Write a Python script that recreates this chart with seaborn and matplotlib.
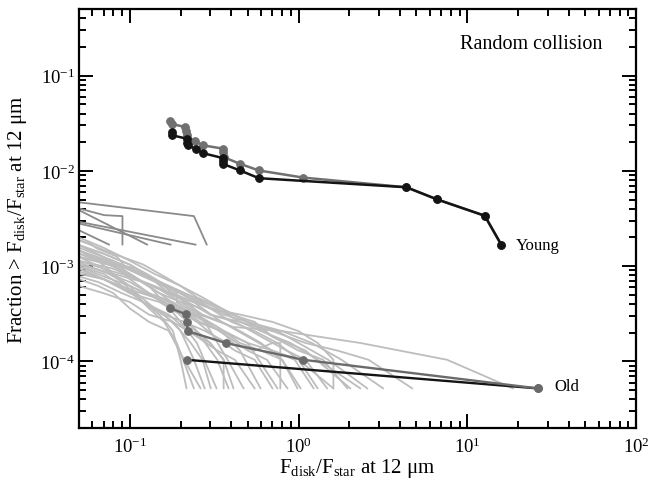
import numpy as np
import pandas as pd
import matplotlib
matplotlib.use("Agg")
import matplotlib.pyplot as plt
import seaborn as sns

# Observed cumulative distributions
young_x = [0.177, 0.177, 0.217, 0.219, 0.220, 0.246, 0.273, 0.358, 0.358, 0.358,
           0.450, 0.582, 4.36, 6.62, 12.7, 15.9]
young_y = [0.0255, 0.0237, 0.0218, 0.0196, 0.0185, 0.0171, 0.0153, 0.0136, 0.0128,
           0.0118, 0.0101, 0.00838, 0.00673, 0.00502, 0.00338, 0.00168]

young_alt_x = [0.172, 0.177, 0.212, 0.215, 0.217, 0.243, 0.273, 0.358, 0.358, 0.362,
               0.450, 0.582, 1.066, 4.36, 6.62, 12.7, 15.9]
young_alt_y = [0.0337, 0.0311, 0.0289, 0.0261, 0.0237, 0.0204, 0.0185, 0.0171, 0.01575,
               0.01387, 0.01186, 0.0101, 0.0085, 0.00673, 0.00502, 0.00338, 0.00168]

old_x = [0.217, 26.4]
old_y = [1.04e-4, 5.2e-5]

old_alt_x = [0.1726, 0.2155, 0.2175, 0.220, 0.371, 1.07, 26.4]
old_alt_y = [3.64e-4, 3.12e-4, 2.6e-4, 2.08e-4, 1.56e-4, 1.04e-4, 5.2e-5]

# Simulated young populations (random collisions)
young_mc_x = [
    [0.05, 0.240, 0.286],
    [0.05, 0.0705, 0.0905, 0.0905],
    [0.05, 0.127],
    [0.05, 0.246],
    [0.05, 0.175],
    [0.05, 0.0755],
]
young_mc_y = [
    [4.68e-3, 3.35e-3, 1.68e-3],
    [4.03e-3, 3.43e-3, 3.35e-3, 1.68e-3],
    [3.87e-3, 1.68e-3],
    [2.92e-3, 1.68e-3],
    [2.80e-3, 1.68e-3],
    [2.38e-3, 1.68e-3],
]

# Simulated old populations (random collisions)
old_mc_x = [
    [0.05, 0.07, 0.09, 0.12, 0.15, 0.18, 0.2, 0.217],
    [0.05, 0.065, 0.08, 0.1, 0.13, 0.17, 0.21, 0.263],
    [0.05, 0.07, 0.1, 0.12, 0.16, 0.2, 0.24, 0.278],
    [0.05, 0.06, 0.085, 0.11, 0.14, 0.18, 0.23, 0.27, 0.302],
    [0.05, 0.08, 0.1, 0.13, 0.16, 0.2, 0.25, 0.327],
    [0.05, 0.075, 0.1, 0.14, 0.18, 0.22, 0.28, 0.33, 0.385],
    [0.05, 0.07, 0.095, 0.12, 0.17, 0.22, 0.3, 0.36, 0.412],
    [0.05, 0.07, 0.09, 0.12, 0.15, 0.2, 0.26, 0.3, 0.38, 0.473],
    [0.05, 0.08, 0.11, 0.15, 0.2, 0.26, 0.35, 0.45, 0.596],
    [0.05, 0.07, 0.1, 0.14, 0.19, 0.25, 0.32, 0.42, 0.55, 0.702],
    [0.05, 0.058, 0.064, 0.084, 0.093, 0.11, 0.126, 0.166, 0.19, 0.19, 0.25, 0.36, 0.5, 0.751],
    [0.05, 0.065, 0.09, 0.12, 0.16, 0.21, 0.28, 0.38, 0.55, 0.7, 0.78, 0.78],
    [0.05, 0.075, 0.1, 0.13, 0.15, 0.2, 0.28, 0.38, 0.5, 0.65, 0.861],
    [0.05, 0.07, 0.1, 0.13, 0.18, 0.24, 0.33, 0.45, 0.6, 0.8, 0.986],
    [0.05, 0.08, 0.12, 0.16, 0.21, 0.27, 0.35, 0.45, 0.6, 0.8, 1.03],
    [0.05, 0.08, 0.11, 0.15, 0.2, 0.27, 0.35, 0.5, 0.7, 0.95, 1.23],
    [0.05, 0.07, 0.1, 0.14, 0.19, 0.25, 0.35, 0.5, 0.7, 1.0, 1.30],
    [0.05, 0.07, 0.1, 0.14, 0.18, 0.24, 0.3, 0.42, 0.6, 0.85, 1.1, 1.48],
    [0.05, 0.09, 0.12, 0.17, 0.24, 0.3, 0.4, 0.55, 0.75, 1.0, 1.61],
    [0.05, 0.07, 0.1, 0.14, 0.2, 0.25, 0.35, 0.5, 0.7, 1.0, 1.4, 1.95],
    [0.05, 0.08, 0.12, 0.17, 0.22, 0.3, 0.45, 0.6, 0.9, 1.3, 2.33],
    [0.05, 0.075, 0.11, 0.15, 0.2, 0.26, 0.36, 0.5, 0.75, 1.0, 1.5, 2.56],
    [0.05, 0.08, 0.12, 0.16, 0.2, 0.27, 0.35, 0.5, 0.8, 1.2, 1.8, 3.18],
    [0.05, 0.08, 0.12, 0.17, 0.24, 0.33, 0.45, 0.7, 1.1, 1.7, 2.6, 4.73],
    [0.05, 0.07, 0.1, 0.13, 0.17, 0.22, 0.26, 0.41, 0.8, 2.33, 7.6, 18.7],
    [0.05, 0.065, 0.08, 0.1, 0.13, 0.16, 0.19, 0.24],
    [0.05, 0.07, 0.1, 0.13, 0.18, 0.25, 0.33, 0.42, 0.55],
    [0.05, 0.07, 0.1, 0.13, 0.18, 0.22, 0.3, 0.4, 0.55, 0.7, 1.1, 2.03],
    [0.05, 0.07, 0.1, 0.15, 0.2, 0.25, 0.3, 0.36, 0.36],
    [0.05, 0.07, 0.1, 0.14, 0.2, 0.3, 0.45, 0.7, 1.0, 1.3, 1.61, 1.61],
]
old_mc_y = [
    [1.0e-3, 8.3e-4, 6.2e-4, 4.2e-4, 3.1e-4, 2.1e-4, 1.04e-4, 5.2e-5],
    [7.3e-4, 6.2e-4, 5.2e-4, 3.6e-4, 2.6e-4, 2.1e-4, 1.04e-4, 5.2e-5],
    [1.25e-3, 9.4e-4, 6.2e-4, 4.2e-4, 3.1e-4, 2.1e-4, 1.04e-4, 5.2e-5],
    [9.4e-4, 8.3e-4, 6.2e-4, 5.2e-4, 3.6e-4, 2.6e-4, 1.56e-4, 1.04e-4, 5.2e-5],
    [1.46e-3, 1.04e-3, 7.3e-4, 5.2e-4, 4.2e-4, 2.6e-4, 1.56e-4, 5.2e-5],
    [1.1e-3, 8.3e-4, 6.2e-4, 4.7e-4, 3.6e-4, 2.6e-4, 1.56e-4, 1.04e-4, 5.2e-5],
    [8.3e-4, 7.3e-4, 5.7e-4, 4.2e-4, 3.1e-4, 2.1e-4, 1.56e-4, 1.04e-4, 5.2e-5],
    [1.66e-3, 1.25e-3, 9.4e-4, 6.8e-4, 5.2e-4, 4.2e-4, 3.1e-4, 2.1e-4, 1.04e-4, 5.2e-5],
    [1.25e-3, 1.0e-3, 7.3e-4, 5.2e-4, 3.6e-4, 2.6e-4, 2.08e-4, 1.3e-4, 5.2e-5],
    [9.9e-4, 7.8e-4, 6.2e-4, 4.7e-4, 3.6e-4, 2.6e-4, 1.82e-4, 1.3e-4, 1.04e-4, 5.2e-5],
    [1.87e-3, 1.73e-3, 1.53e-3, 1.26e-3, 1.01e-3, 9.4e-4, 8.3e-4, 6.2e-4, 5.2e-4, 4.2e-4,
     3.1e-4, 2.1e-4, 1.56e-4, 5.2e-5],
    [7.8e-4, 6.8e-4, 5.2e-4, 4.2e-4, 3.1e-4, 2.6e-4, 2.08e-4, 1.56e-4, 1.3e-4, 1.56e-4,
     1.56e-4, 5.2e-5],
    [1.35e-3, 1.04e-3, 8.3e-4, 6.2e-4, 4.7e-4, 3.6e-4, 2.6e-4, 1.82e-4, 1.3e-4, 1.04e-4, 5.2e-5],
    [1.04e-3, 8.8e-4, 6.8e-4, 5.2e-4, 4.2e-4, 3.1e-4, 2.3e-4, 1.56e-4, 1.3e-4, 1.04e-4, 5.2e-5],
    [1.56e-3, 1.14e-3, 8.3e-4, 6.2e-4, 4.2e-4, 3.1e-4, 2.6e-4, 2.08e-4, 1.56e-4, 1.04e-4, 5.2e-5],
    [1.14e-3, 9.4e-4, 7.3e-4, 5.7e-4, 4.2e-4, 3.6e-4, 2.6e-4, 1.82e-4, 1.3e-4, 1.04e-4, 5.2e-5],
    [8.8e-4, 7.3e-4, 5.7e-4, 4.7e-4, 3.6e-4, 2.6e-4, 2.08e-4, 1.56e-4, 1.3e-4, 1.04e-4, 5.2e-5],
    [1.66e-3, 1.35e-3, 1.04e-3, 7.3e-4, 5.2e-4, 4.2e-4, 3.1e-4, 2.6e-4, 1.82e-4, 1.3e-4,
     1.04e-4, 5.2e-5],
    [1.25e-3, 9.9e-4, 7.8e-4, 6.2e-4, 4.7e-4, 3.6e-4, 2.6e-4, 2.08e-4, 1.56e-4, 1.04e-4, 5.2e-5],
    [2.0e-3, 1.56e-3, 1.14e-3, 8.3e-4, 6.2e-4, 4.7e-4, 3.6e-4, 2.6e-4, 1.82e-4, 1.3e-4,
     1.04e-4, 5.2e-5],
    [1.04e-3, 8.3e-4, 6.8e-4, 5.2e-4, 4.2e-4, 3.1e-4, 2.6e-4, 2.08e-4, 1.56e-4, 1.04e-4, 5.2e-5],
    [1.46e-3, 1.14e-3, 8.8e-4, 6.8e-4, 5.2e-4, 4.2e-4, 3.1e-4, 2.6e-4, 2.08e-4, 1.56e-4,
     1.04e-4, 5.2e-5],
    [1.87e-3, 1.35e-3, 1.04e-3, 7.8e-4, 6.2e-4, 4.7e-4, 3.6e-4, 2.6e-4, 2.08e-4, 1.56e-4,
     1.04e-4, 5.2e-5],
    [1.25e-3, 1.04e-3, 8.3e-4, 6.2e-4, 4.7e-4, 3.6e-4, 2.6e-4, 2.08e-4, 1.56e-4, 1.3e-4,
     1.04e-4, 5.2e-5],
    [1.66e-3, 1.35e-3, 1.04e-3, 7.8e-4, 5.2e-4, 4.2e-4, 3.1e-4, 2.3e-4, 2.08e-4, 1.56e-4,
     1.04e-4, 5.2e-5],
    [1.46e-3, 1.14e-3, 8.3e-4, 5.7e-4, 3.6e-4, 2.6e-4, 1.56e-4, 5.2e-5],
    [6.2e-4, 5.2e-4, 4.2e-4, 3.1e-4, 2.6e-4, 1.82e-4, 1.3e-4, 1.04e-4, 5.2e-5],
    [1.35e-3, 1.14e-3, 9.4e-4, 7.3e-4, 5.7e-4, 4.7e-4, 3.6e-4, 3.1e-4, 2.6e-4, 1.82e-4,
     1.3e-4, 5.2e-5],
    [9.4e-4, 7.3e-4, 5.2e-4, 4.2e-4, 3.1e-4, 2.08e-4, 1.56e-4, 1.04e-4, 5.2e-5],
    [1.14e-3, 9.4e-4, 7.8e-4, 6.2e-4, 4.7e-4, 3.6e-4, 3.1e-4, 2.6e-4, 2.08e-4, 1.56e-4,
     1.04e-4, 5.2e-5],
]


def long_table(xs, ys):
    rows = []
    for i, (cx, cy) in enumerate(zip(xs, ys)):
        for j, (a, b) in enumerate(zip(cx, cy)):
            rows.append({"run": i, "order": j, "x": a, "y": b})
    return pd.DataFrame(rows)


sns.set_style("ticks")
plt.rcParams["font.family"] = ["Liberation Serif", "DejaVu Serif"]
plt.rcParams["mathtext.fontset"] = "custom"
plt.rcParams["mathtext.rm"] = "Liberation Serif"
plt.rcParams["mathtext.it"] = "Liberation Serif:italic"
plt.rcParams["mathtext.default"] = "rm"
plt.rcParams["text.color"] = "black"
plt.rcParams["axes.labelcolor"] = "black"

fig = plt.figure(figsize=(6.62, 4.81), dpi=100)
ax = fig.add_axes([0.1193, 0.1081, 0.8414, 0.8711])
ax.set_xscale("log")
ax.set_yscale("log")

light = "#bdbdbd"
medium = "#8a8a8a"

old_mc = long_table(old_mc_x, old_mc_y)
sns.lineplot(data=old_mc, x="x", y="y", units="run", estimator=None, sort=False,
             color=light, lw=1.3, ax=ax, legend=False)

young_mc = long_table(young_mc_x, young_mc_y)
sns.lineplot(data=young_mc, x="x", y="y", units="run", estimator=None, sort=False,
             color=medium, lw=1.3, ax=ax, legend=False)

series = [
    (old_x, old_y, "#141414", "#6a6a6a", 1.7),
    (old_alt_x, old_alt_y, "#6a6a6a", "#6a6a6a", 1.7),
    (young_alt_x, young_alt_y, "#707070", "#707070", 1.8),
    (young_x, young_y, "#141414", "#141414", 1.8),
]
for sx, sy, lc, mc, lw in series:
    df = pd.DataFrame({"x": sx, "y": sy})
    sns.lineplot(data=df, x="x", y="y", sort=False, estimator=None, color=lc, lw=lw,
                 marker="o", markersize=5.5, markerfacecolor=mc, markeredgecolor=mc,
                 ax=ax, legend=False)

ax.set_xlim(0.05, 100)
ax.set_ylim(2e-5, 0.5)

ax.text(19.3, young_y[-1], "Young", fontsize=12, va="center", ha="left")
ax.text(33.0, 5.5e-5, "Old", fontsize=12, va="center", ha="left")
ax.text(0.94, 0.917, "Random collision", transform=ax.transAxes, fontsize=14.5,
        ha="right", va="center")

ax.set_xlabel(r"F$_{\rm disk}$/F$_{\rm star}$ at 12 μm", fontsize=15, labelpad=0)
ax.set_ylabel(r"Fraction > F$_{\rm disk}$/F$_{\rm star}$ at 12 μm", fontsize=15, labelpad=8)

for s in ax.spines.values():
    s.set_linewidth(1.6)
    s.set_color("black")
ax.tick_params(which="both", direction="in", top=True, right=True, colors="black",
               labelsize=13.5, width=1.4)
ax.tick_params(which="major", length=10)
ax.tick_params(axis="y", which="major", pad=3)
ax.tick_params(axis="x", which="major", pad=6)
ax.tick_params(which="minor", length=5)
ax.yaxis.set_minor_locator(matplotlib.ticker.LogLocator(base=10, subs=np.arange(2, 10), numticks=20))
ax.xaxis.set_minor_locator(matplotlib.ticker.LogLocator(base=10, subs=np.arange(2, 10), numticks=20))
ax.xaxis.set_minor_formatter(matplotlib.ticker.NullFormatter())
ax.yaxis.set_minor_formatter(matplotlib.ticker.NullFormatter())

fig.savefig("out.png", dpi=100)
